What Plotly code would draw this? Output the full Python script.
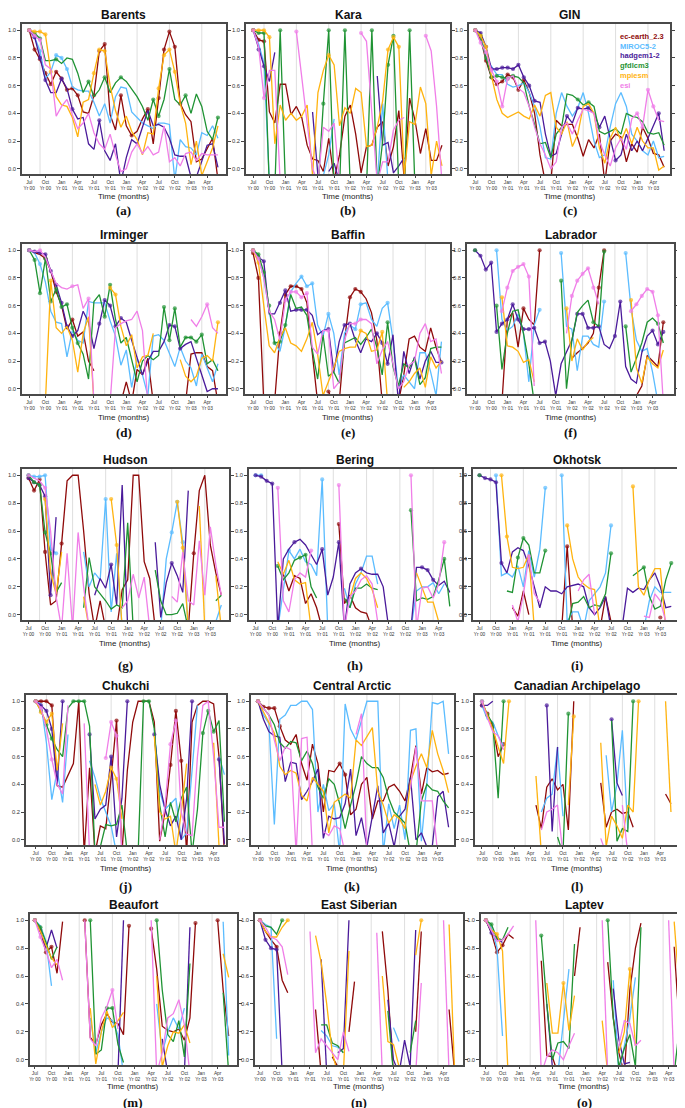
import plotly.graph_objects as go

N = None

# ---------------- axis labels / categories ----------------
TICK_POS = [0, 3, 6, 9, 12, 15, 18, 21, 24, 27, 30, 33]
TICK_TEXT = ["Jul<br>Yr 00", "Oct<br>Yr 00", "Jan<br>Yr 01", "Apr<br>Yr 01",
             "Jul<br>Yr 01", "Oct<br>Yr 01", "Jan<br>Yr 02", "Apr<br>Yr 02",
             "Jul<br>Yr 02", "Oct<br>Yr 02", "Jan<br>Yr 03", "Apr<br>Yr 03"]
GRID_MONTHS = [2, 8, 14, 20, 26, 32]
Y_TICKS = [0.0, 0.2, 0.4, 0.6, 0.8, 1.0]
Y_TICK_TEXT = ["0.0", "0.2", "0.4", "0.6", "0.8", "1.0"]
MODELS = ["ec-earth_2.3", "MIROC5-2", "hadgem1-2", "gfdlcm3", "mpiesm", "esi"]
REGION_NAMES = ["Barents", "Kara", "GIN", "Irminger", "Baffin", "Labrador",
                "Hudson", "Bering", "Okhotsk", "Chukchi", "Central Arctic",
                "Canadian Archipelago", "Beaufort", "East Siberian", "Laptev"]
LETTERS = ["(a)", "(b)", "(c)", "(d)", "(e)", "(f)", "(g)", "(h)", "(i)",
           "(j)", "(k)", "(l)", "(m)", "(n)", "(o)"]

# ---------------- data: each region = [ec-earth, MIROC, hadgem, gfdl, mpiesm, esi] ----------------
BARENTS = [
    [1.0,0.86,0.79,0.69,0.61,0.70,0.65,0.57,0.58,0.53,0.41,0.40,0.53,0.85,0.90,0.39,0.28,0.53,0.31,0.24,0.27,0.36,0.43,0.18,0.51,0.86,0.99,0.88,0.47,0.39,0.34,0.05,0.07,0.14,0.22,-0.08],
    [1.0,0.95,0.85,0.65,0.70,0.82,0.80,0.72,0.59,0.57,0.56,0.56,0.48,0.38,0.47,0.33,0.52,0.59,0.58,0.41,0.37,0.33,0.31,0.29,0.33,0.33,0.32,-0.08,0.21,0.16,0.15,0.10,0.26,0.24,0.31,0.22],
    [1.0,0.95,0.80,0.64,0.55,0.55,0.65,0.58,0.43,0.36,0.37,0.18,0.14,0.35,0.13,0.06,0.18,-0.10,0.08,0.21,0.18,0.30,0.42,0.31,0.32,0.30,0.22,0.10,0.09,0.09,-0.06,-0.06,0.05,0.17,0.18,0.01],
    [1.0,0.98,0.94,0.78,0.78,0.79,0.76,0.80,0.79,0.69,0.55,0.63,0.52,0.57,0.66,0.55,0.62,0.66,0.63,0.57,0.52,0.45,0.35,0.50,0.38,0.50,0.72,0.50,0.46,0.53,0.40,0.54,0.45,0.27,0.21,0.37],
    [1.0,0.99,0.99,0.97,0.70,0.52,0.46,0.45,0.37,0.23,0.48,0.50,0.69,0.86,0.85,0.60,0.42,0.30,0.38,0.27,0.21,0.10,0.26,0.25,0.58,0.82,0.86,0.70,0.47,0.33,0.03,0.20,-0.05,0.05,0.15,0.31],
    [1.0,0.96,0.93,0.75,0.72,0.38,0.45,0.50,0.39,0.29,0.33,0.40,0.26,0.18,0.14,0.25,0.10,-0.02,0.00,0.12,0.18,0.11,0.16,0.10,0.12,0.31,0.05,0.08,0.02,0.11,0.12,0.06,0.11,0.10,0.10,0.10],
]
BARENTS_MK = [[0,1,2,3,4,5,6,7,8,9,12,13,14,17,19,22,24,25,26,27,28], [0,1,2,5,6,7], [0,1,2,3,6,8,13],
              [0,1,2,5,11,14,17,23,24,26,29,35], [0,1,2,3,4,12,13,14,24,25,26,27], [0,1,2]]

KARA = [
    [1.0,0.93,0.92,0.41,0.33,0.61,0.61,0.39,0.45,0.37,0.17,0.07,0.06,-0.02,0.22,-0.08,0.10,0.38,0.46,0.25,-0.03,0.16,0.17,0.30,0.34,0.02,0.16,0.42,-0.08,0.51,0.35,0.11,0.29,0.06,0.06,0.17],
    [1.0,0.90,0.76,-0.1,N,N,N,N,N,N,N,N,-0.1,-0.05,0.10,0.36,N,N,N,N,N,N,N,-0.1,0.47,-0.1],
    [1.0,0.86,0.74,0.63,0.84,N,N,N,N,N,N,0.41,-0.05,N,-0.02,0.04,-0.1,N,N,N,N,N,N,0.67,0.17,0.19,-0.03,0.02,0.08],
    [1.0,0.98,0.98,-0.15,-0.15,1.0,-0.15,N,N,N,N,N,-0.15,0.47,1.0,-0.15,-0.15,1.0,-0.15,N,N,-0.15,1.0,-0.15,0.2,0.75,0.96,-0.15,-0.15,1.0,-0.15],
    [1.0,1.0,1.0,0.95,0.18,0.46,0.35,0.40,0.35,0.38,0.46,-0.05,0.55,0.71,0.82,0.75,0.31,0.44,0.40,0.58,0.55,0.16,0.17,0.30,0.49,0.86,0.95,0.88,-0.05,0.34,0.32,0.59,0.47,-0.05,0.20,0.02],
    [1.0,0.88,0.51,0.71,0.71,-0.1,N,N,0.99,0.66,0.33,0.0,-0.1,0.30,0.27,0.33,-0.1,N,N,N,0.98,0.92,0.40,-0.1,0.05,0.05,0.28,0.35,0.37,N,N,N,0.96,0.85,0.45,-0.1],
]
KARA_MK = [[0,1,2], [0], [0,1,2], [0,1,2,5,13,14,17,22,25,26,29], [0,1,2,3,14,25,26,27], [0,2,8,20,32]]

GIN = [
    [1.0,0.94,0.78,0.66,0.61,0.63,0.68,0.66,0.57,0.64,0.55,0.40,0.10,-0.1,-0.1,0.35,0.31,0.32,0.32,0.22,0.09,0.21,0.15,0.25,-0.1,0.20,0.25,0.23,0.05,0.18,0.12,0.30,0.22,0.11,0.10,0.01],
    [1.0,0.95,0.80,0.74,0.68,0.68,0.61,0.59,0.60,0.62,0.55,0.45,0.30,0.08,0.07,0.40,0.55,0.45,0.38,0.44,0.55,0.40,0.20,0.08,0.10,0.30,0.47,0.55,0.45,0.25,0.20,0.13,0.10,0.20,0.08,0.09],
    [1.0,0.98,0.88,0.72,0.72,0.73,0.73,0.72,0.75,0.66,0.60,0.49,0.48,0.25,0.09,0.11,0.25,0.38,0.33,0.44,0.43,0.44,0.40,0.30,0.38,0.22,0.06,0.10,0.25,0.13,0.20,0.13,0.22,0.30,0.40,0.13],
    [1.0,0.96,0.80,0.66,0.67,0.66,0.65,0.67,0.66,0.62,0.45,0.32,0.18,0.19,0.08,0.25,0.30,0.54,0.53,0.50,0.46,0.48,0.45,0.27,0.25,0.27,0.29,0.25,0.40,0.38,0.37,0.34,0.26,0.25,0.26,0.17],
    [1.0,0.96,0.88,0.67,0.50,0.40,0.37,0.39,0.41,0.38,0.36,0.46,0.38,0.53,0.55,0.30,0.25,0.34,0.16,0.25,0.45,0.47,0.40,0.15,0.04,0.22,0.30,0.20,0.29,0.18,0.30,0.20,0.15,0.15,-0.01,0.02],
    [1.0,0.91,0.84,0.71,0.63,0.45,0.65,0.67,0.58,0.55,0.45,0.30,0.18,0.10,0.00,0.05,0.30,0.33,0.25,0.35,0.43,0.42,0.40,0.20,0.10,0.02,0.15,0.22,0.14,0.36,0.40,0.30,0.57,0.45,0.35,0.34],
]
GIN_MK = [[0,1,2,3,4,5,6,7,8,9], [0], [0,1,2,3,4,5,6,7,8,9,10,11,17,19,21,23,26,34],
          [0,1,2,3,4,5,6,7,19,21], [0,1,2], [0,1,2,3,4,5,6,30,31,32,33]]

IRMINGER = [
    [1.0,0.98,0.97,0.94,0.85,0.70,0.60,0.43,0.50,0.38,0.41,0.20,0.13,N,N,N,N,-0.1,0.05,-0.1,0.14,0.10,0.22,-0.1,N,N,N,N,N,-0.1,0.25,0.26,0.26,0.16,0.13,-0.1],
    [1.0,0.98,0.90,0.77,0.56,0.48,0.47,0.23,0.42,0.35,0.33,0.63,0.62,0.62,0.62,0.49,0.38,0.17,0.28,0.01,0.22,0.10,-0.05,0.38,0.39,0.35,0.25,0.16,0.30,0.20,0.15,0.02,0.25,0.15,0.05,0.18],
    [1.0,0.99,0.98,0.97,0.85,0.75,0.62,0.45,0.38,0.42,0.56,0.48,0.29,0.47,0.64,0.60,0.45,0.51,0.48,0.35,0.22,0.10,0.20,0.27,0.27,0.34,0.46,0.45,0.29,0.32,0.34,0.22,0.10,-0.02,0.00,0.00],
    [1.0,0.93,0.69,0.94,0.63,0.72,0.59,0.61,0.44,0.33,0.25,0.07,0.63,0.68,0.52,0.75,0.50,0.33,0.37,0.22,0.05,0.20,0.24,0.21,0.24,0.59,0.35,0.58,0.30,0.37,0.37,0.34,0.39,0.18,0.21,0.13],
    [N,N,N,-0.1,0.78,0.44,0.40,0.45,0.35,0.12,0.40,0.52,-0.1,N,N,0.73,0.68,0.45,0.31,0.39,0.15,0.23,0.24,0.40,N,N,N,N,0.21,0.09,0.05,0.09,0.22,0.24,0.20,0.48],
    [1.0,0.99,1.0,0.95,0.85,0.76,0.73,0.72,0.74,0.75,0.58,0.65,-0.1,N,N,-0.1,0.44,0.47,0.49,0.50,0.56,0.42,-0.1,N,N,N,N,N,N,N,0.50,0.45,0.52,0.61,0.44,0.40],
]
IRMINGER_MK = [[0,3,5,8], [0,2], [0,1,2,3,4,5,6,7,8,13,14,15,16,17,26,27,28],
               [0,1,2,3,4,5,6,7,8,9,14,15,25,26,27,29,30,31,32], [4,15,16,35], [0,2,8,11,33]]

BAFFIN = [
    [0.98,0.80,-0.1,N,-0.1,0.40,0.68,0.74,0.74,0.72,0.62,0.25,-0.1,N,-0.02,-0.1,-0.1,0.35,0.66,0.72,0.70,0.65,0.55,0.35,-0.1,N,N,-0.1,0.10,0.36,0.38,0.30,0.27,0.44,0.30,0.19],
    [1.0,0.96,0.80,0.55,0.33,0.27,0.45,0.70,0.76,0.81,0.74,0.76,0.46,0.38,0.54,0.40,0.10,0.40,0.46,0.43,0.61,0.62,0.50,0.45,0.58,0.62,0.35,0.00,0.10,0.05,0.00,0.26,0.26,0.12,-0.05,0.34],
    [1.0,0.95,0.92,0.54,0.54,0.62,0.71,0.56,0.57,0.57,0.57,0.53,0.39,0.42,0.43,0.12,0.34,0.46,0.47,0.35,0.26,0.36,0.34,0.40,0.33,0.18,0.39,-0.1,0.27,0.11,0.23,0.07,0.20,0.27,0.19,0.19],
    [1.0,0.97,0.84,0.60,0.33,0.34,0.46,0.68,0.58,0.59,0.53,0.28,0.07,0.39,0.09,0.12,0.04,0.33,0.35,0.37,0.32,0.37,0.43,0.30,0.10,0.48,0.16,0.02,0.18,0.15,0.22,0.03,0.08,0.29,0.30,0.30],
    [1.0,0.91,0.60,0.31,0.26,0.37,0.44,0.33,0.31,0.27,0.36,0.48,0.25,-0.05,0.05,0.15,0.27,0.29,0.30,0.30,0.42,0.40,0.27,0.28,0.41,-0.1,N,N,0.01,0.05,0.11,0.15,0.01,0.23,0.15,0.20],
    [1.0,0.94,0.80,0.56,0.50,0.35,0.64,0.70,0.70,0.66,0.69,0.30,0.25,0.42,0.42,0.00,0.05,0.35,0.47,0.47,0.50,0.50,0.47,0.18,0.28,0.34,0.18,0.00,0.05,0.17,0.20,0.40,0.47,0.34,0.36,0.11],
]
BAFFIN_MK = [[0,1,5,6,7,8,9,14,18,19,20], [0,9,10,11,14,19,20,25], [0,1,2,5,6,8,9,10,14,17,18,23,24,25,35],
             [0,1,2,3,4,5,6,25], [0,1,20,24], [0,1,6,7,8,9,10,14,19,20]]

LABRADOR = [
    [N,N,N,N,N,-0.1,0.50,0.55,0.30,0.58,0.50,0.46,1.0,N,N,N,N,N,0.22,0.26,0.29,0.33,0.40,0.73,1.0,N,N,N,N,-0.1,-0.05,0.02,0.24,0.20,0.16,0.48],
    [N,N,N,N,1.0,0.50,0.42,0.45,0.54,0.40,0.05,0.46,0.57,N,N,N,0.98,0.45,0.43,0.13,0.38,0.38,0.32,0.30,0.63,N,N,N,0.98,0.58,0.35,0.27,0.29,0.12,-0.1],
    [1.0,0.96,0.86,0.91,0.41,0.47,0.50,0.61,0.50,0.43,0.43,0.44,0.33,0.34,0.20,-0.05,0.18,0.26,0.35,0.54,0.54,0.44,0.44,0.45,0.32,0.29,0.38,0.63,0.16,0.07,0.04,0.26,0.38,0.42,0.32,0.41],
    [1.0,N,N,N,0.60,0.14,0.40,0.56,0.57,0.40,0.18,-0.1,N,N,N,N,0.78,0.0,0.35,0.55,0.60,0.64,0.48,0.45,0.99,N,N,N,0.45,0.12,0.22,0.33,0.48,0.51,0.47,0.33],
    [N,N,N,N,N,0.66,0.31,0.30,0.27,0.19,0.21,0.05,N,N,N,N,N,0.58,0.20,0.36,0.28,0.34,0.37,N,N,N,N,N,N,0.64,0.15,0.04,0.23,0.18,0.15,0.28],
    [N,N,N,N,N,0.56,0.73,0.85,0.88,0.90,0.81,0.02,N,N,N,N,N,0.40,0.67,0.78,0.83,0.87,0.73,0.61,N,N,N,N,N,0.56,0.61,0.67,0.72,0.70,0.53,-0.1],
]
LABRADOR_MK = [[9,12,23,24,35], [4,12,16,24,28], [0,1,2,3,4,5,6,7,8,9,10,11,12,13,19,20,21,22,23,26,27,33,34,35],
               [0,4,11,16,22,24,28,34], [5,17,29], [5,6,7,8,9,10,18,19,20,21,22,29,30,31,32,33,34]]

HUDSON = [
    [0.98,0.89,0.97,0.45,0.07,0.10,0.51,0.96,1.0,1.0,0.60,0.15,-0.1,0.10,-0.1,N,-0.1,0.18,0.25,1.0,1.0,0.38,0.26,-0.1,N,N,N,N,N,-0.1,0.44,0.89,1.0,0.50,0.30,0.14],
    [1.0,0.99,0.99,1.0,0.47,0.44,N,N,N,N,0.45,0.20,0.30,0.25,0.83,0.02,0.44,-0.1,N,N,N,N,N,N,-0.1,0.40,0.59,0.81,0.52,-0.1,N,N,N,N,-0.05,0.07],
    [0.98,0.95,0.93,0.85,0.14,0.70,N,N,N,N,N,N,0.14,0.26,0.19,0.36,0.07,0.93,-0.1,N,N,N,N,0.52,-0.02,0.23,0.37,0.28,0.16,0.89],
    [1.0,0.95,0.93,0.59,0.44,0.16,0.23,N,N,N,0.05,0.41,0.20,0.15,0.10,0.04,0.07,0.05,0.66,-0.1,N,N,N,0.32,0.10,0.00,0.00,0.01,0.08,-0.1,N,N,N,N,0.10,0.14],
    [N,N,N,0.83,0.30,0.15,0.45,N,N,N,0.13,-0.1,N,N,N,0.83,0.50,-0.1,N,N,N,N,N,N,N,N,N,0.81,0.48,-0.1,N,0.78,-0.1,N,0.28,-0.1],
    [1.0,0.98,0.96,0.91,0.60,0.13,-0.1,0.44,-0.1,0.59,0.20,-0.1,N,N,N,N,N,0.05,0.10,0.29,0.12,0.27,-0.1,N,N,N,0.13,0.09,0.45,0.10,0.07,0.53,0.14,0.63,0.36,0.14],
]
HUDSON_MK = [[0,1,2,3,6,30], [0,1,2,3,4,5,14,26,27,28], [0,1,2,3,4,15,26], [0,1,2,3,4], [3,15,16,27,28], [0,3]]

BERING = [
    [N,N,N,N,N,0.29,0.17,0.28,0.26,0.08,0.15,0.05,-0.1,N,N,0.65,0.08,0.14,0.05,0.02,0.01,-0.1],
    [1.0,1.0,N,N,-0.1,0.17,0.46,0.40,0.47,0.38,0.36,0.28,0.97,-0.1,N,N,0.19,0.05,0.22,0.30,0.42,0.42,0.22,N,N,N,N,N,-0.1,0.17,0.20,0.20,0.23,0.15,0.22],
    [1.0,0.99,0.96,0.94,-0.1,0.40,0.47,0.52,0.54,0.50,0.43,0.36,0.47,0.14,0.27,0.52,-0.1,0.22,0.30,0.33,0.30,0.29,0.29,0.20,-0.1,N,N,N,-0.1,0.34,0.34,0.32,0.25,0.21,0.24,0.16],
    [N,N,N,N,0.35,0.25,0.30,0.39,0.41,0.43,0.20,0.12,N,N,N,N,0.12,0.05,0.19,0.19,0.22,0.19,0.18,N,N,N,N,N,0.75,0.10,0.12,0.11,0.13,0.25,0.40,0.06],
    [N,N,N,N,0.38,0.29,0.39,0.25,0.22,0.23,-0.1,N,N,N,N,N,N,0.12,0.26,0.30,0.26,0.18,0.05,N,N,N,N,N,N,0.30,0.20,0.09,0.09,-0.05],
    [N,N,N,N,0.91,0.10,0.02,0.25,0.30,0.27,0.46,N,N,N,N,0.93,-0.1,0.13,0.17,0.25,0.28,0.22,-0.05,N,N,N,N,N,1.0,-0.1,0.19,0.20,0.12,0.22,0.52],
]
BERING_MK = [[15], [0,1,6,12], [0,1,2,3,7,12,15,19,30,31,32], [4,8,9,28,34], [], [4,10,15,28,34]]

OKHOTSK = [
    [N,N,N,N,N,N,0.05,-0.01,0.17,0.00,N,N,N,N,N,-0.1,0.49,-0.1,N,N,N,N,-0.1,0.13,-0.05,N,N,N,N,N,N,N,N,-0.02],
    [N,N,N,1.0,0.28,0.30,0.27,0.35,0.20,0.46,0.27,0.47,0.91,N,N,1.0,-0.05,0.02,0.02,-0.1,0.10,0.15,0.20,0.30,0.64,N,N,N,N,N,-0.1,0.10,0.20,0.16,0.16,0.16],
    [1.0,0.98,0.97,0.95,0.37,0.30,0.45,0.48,0.46,0.35,0.20,0.05,0.20,0.17,0.17,0.15,0.20,0.21,0.22,0.20,0.05,0.00,0.05,0.13,-0.1,N,-0.1,0.19,0.16,0.19,0.18,0.25,0.30,0.20,0.05,0.06],
    [1.0,N,N,N,N,0.17,0.16,0.41,0.55,0.50,0.30,0.30,0.46,N,N,N,-0.1,0.08,0.09,0.13,0.05,0.07,0.06,0.15,0.44,N,N,N,0.28,0.31,0.34,0.13,0.04,0.06,0.25,0.37],
    [N,N,N,N,1.0,0.56,0.34,0.33,0.34,0.43,-0.1,N,N,N,N,N,0.64,0.40,0.27,0.22,0.19,0.18,-0.1,N,N,N,N,N,0.92,0.20,0.14,0.25,0.33,0.33,-0.1],
    [N,N,N,N,N,N,0.07,-0.05,0.14,0.42,0.15,0.09,N,N,N,N,N,N,0.17,0.25,0.29,0.00,N,N,N,N,N,N,N,N,-0.01,-0.02,0.15,0.10,-0.05],
]
OKHOTSK_MK = [[16,33], [3,12,15,24], [0,1,2,3,4], [0,7,8,12,24,30,35], [4,5,16,28], [9]]

CHUKCHI = [
    [1.0,1.0,1.0,0.97,0.39,0.38,0.47,0.55,1.0,-0.1,0.52,-0.1,0.10,0.08,0.45,0.86,-0.1,0.50,0.85,1.0,1.0,1.0,0.85,-0.01,0.20,0.54,0.93,0.57,-0.1,0.85,0.97,1.0,1.0,0.98,0.60,-0.1],
    [1.0,0.98,0.70,0.29,0.50,0.27,0.76,N,N,N,0.57,0.45,0.30,0.20,0.10,-0.1,N,N,N,N,N,N,0.80,0.35,0.22,0.26,0.30,0.00,0.05,0.50,0.97,N,N,N,0.60,0.47],
    [1.0,0.97,0.93,0.80,0.40,1.0,N,N,N,N,0.76,0.15,0.22,0.25,0.60,0.02,0.30,1.0,N,N,N,N,0.76,0.40,0.22,0.10,0.17,0.00,0.30,1.0,N,N,N,N,0.58,-0.03],
    [1.0,0.93,0.83,0.73,0.65,0.60,0.95,1.0,1.0,1.0,0.82,-0.1,-0.05,0.11,0.10,0.11,0.25,-0.1,N,-0.1,1.0,1.0,0.80,0.25,0.02,0.27,0.13,0.30,0.38,-0.1,0.22,0.77,0.93,0.78,0.86,0.13],
    [1.0,0.92,0.85,0.91,0.50,0.84,N,N,N,N,N,0.40,0.25,0.35,0.52,0.44,0.15,N,N,N,N,N,0.75,0.20,0.15,0.17,-0.1,0.20,0.55,N,N,N,N,0.70,-0.05],
    [1.0,0.95,0.80,0.58,0.40,0.33,0.97,N,N,0.84,-0.1,N,N,0.59,0.85,0.75,-0.1,N,N,N,N,N,N,0.00,0.25,0.69,0.86,0.20,0.04,0.03,0.60,0.97,1.0,0.60,0.09,0.09],
]
CHUKCHI_MK = [[0,1,2,3,15,25,26,27], [0], [0,1,2,3,5,10,14,17,22,29,34], [0,1,2,3,7,8,9,20,21,31,32,33],
              [0,1,2,3,14,15], [0,1,3,13,14,15,25,26]]

CENTRAL_ARCTIC = [
    [1.0,0.96,0.95,0.95,0.82,0.72,0.69,0.76,0.55,0.43,0.69,0.55,0.20,0.50,0.49,0.55,0.47,0.18,0.22,0.40,0.45,0.15,0.28,0.28,0.38,0.40,0.35,0.28,0.45,0.68,0.33,0.52,0.49,0.50,0.47,0.48],
    [1.0,0.90,0.84,0.11,0.87,0.90,0.97,0.97,1.0,1.0,0.94,0.20,0.40,0.21,0.26,-0.1,0.98,0.80,0.72,0.87,1.0,1.0,1.0,-0.1,0.26,0.08,0.25,0.00,0.79,0.80,-0.01,0.40,0.99,0.98,1.0,0.62],
    [1.0,0.87,0.78,0.75,0.74,0.42,0.56,0.55,0.29,0.35,0.42,0.51,0.01,0.17,0.15,0.16,0.26,0.51,0.03,0.16,-0.05,0.17,0.39,0.05,0.12,-0.05,0.17,0.22,0.45,0.00,0.05,-0.05,-0.05,0.31,0.35,0.09],
    [1.0,0.95,0.90,0.83,0.70,0.66,0.71,0.70,0.57,0.64,0.55,0.38,0.30,0.44,0.40,0.26,0.08,0.25,0.40,0.60,0.55,0.52,0.52,0.45,0.30,0.20,0.16,0.12,-0.1,-0.1,0.28,0.40,0.36,0.35,0.28,0.23],
    [1.0,0.92,0.85,0.77,0.53,0.47,0.50,0.48,0.32,0.28,0.45,0.40,0.35,0.05,0.27,0.30,0.33,0.30,0.72,0.68,0.74,0.81,0.35,0.25,0.12,0.18,0.15,0.08,0.42,0.53,0.62,0.52,0.79,0.62,0.50,0.34],
    [1.0,0.95,0.90,0.72,0.57,0.67,0.65,-0.1,0.73,0.74,-0.1,N,0.06,0.03,0.10,0.08,-0.1,N,0.76,0.91,-0.1,N,N,N,N,N,N,N,0.37,0.67,0.28,0.28,0.28,-0.1],
]
CENTRAL_ARCTIC_MK = [[0,1,2,3,4,15,16], [0], [0], [0], [0], [0]]

CANADIAN_ARCH = [
    [0.97,0.91,0.82,0.60,0.69,N,N,N,N,N,0.25,0.08,0.38,0.44,0.36,0.40,0.07,1.0,N,N,N,N,0.41,0.09,0.20,0.22,0.19,0.20,0.09,N,N,N,N,N,0.33,0.26],
    [0.97,0.87,0.85,0.75,0.68,N,N,N,N,N,N,0.20,0.30,0.33,0.67,0.17,N,N,N,N,N,N,N,0.61,0.20,0.40,0.79,0.08],
    [0.97,0.97,1.0,N,N,N,N,N,N,N,N,N,0.97,0.06,0.67,N,N,N,N,N,N,N,N,N,0.87,0.41,0.32],
    [1.0,0.90,0.84,0.30,1.0,N,N,N,N,N,N,N,N,N,0.02,-0.1,0.91,N,N,N,N,N,N,N,0.86,-0.01,0.08,0.06,1.0],
    [1.0,0.90,0.80,0.67,0.55,1.0,N,N,N,N,0.46,-0.1,N,N,N,N,0.25,0.89,N,N,N,N,0.70,-0.05,0.17,0.10,0.01,0.25,0.20,1.0,N,N,N,N,1.0,0.20],
    [1.0,0.88,0.78,0.75,0.65,N,N,N,N,N,N,0.07,0.20,0.22,0.25,-0.1,N,N,N,N,N,N,0.01,-0.1,N,N,0.25,-0.1,N,N,N,N,N,N,N,-0.01],
]
CANADIAN_ARCH_MK = [[0,1,2,4], [], [0,12,24], [0,1,4,16,28], [5,17,29], [0]]

BEAUFORT = [
    [1.0,0.93,0.77,0.81,0.62,0.99,N,N,N,1.0,0.16,0.11,0.25,0.33,0.27,0.26,0.18,0.96,N,N,N,0.94,0.65,0.24,0.21,0.20,0.22,0.14,0.30,0.98,N,N,N,1.0,0.50,0.17],
    [1.0,0.96,0.85,0.53,N,N,N,N,N,N,0.30,0.05,0.20,0.30,0.28,0.18,-0.1,N,N,N,N,N,0.40,0.05,0.20,0.30,0.22,0.37,N,N,N,N,N,N,0.99,0.03],
    [1.0,0.92,0.80,0.93,0.80,N,N,N,N,N,N,N,-0.05,N,N,-0.1,1.0,N,N,N,N,N,N,0.15,-0.1,N,N,-0.1,0.95],
    [1.0,0.95,0.84,0.72,0.81,N,N,N,N,N,1.0,0.04,0.07,0.37,0.37,0.11,-0.02,N,N,N,N,N,1.0,0.50,0.18,0.13,0.28,0.02,0.69,N,N,N,N,N,0.48,-0.1],
    [1.0,0.92,0.82,0.73,0.68,N,N,N,N,N,0.37,-0.03,0.20,0.35,0.23,0.28,0.34,N,N,N,N,N,0.60,-0.05,0.10,0.20,0.19,0.25,0.12,N,N,N,N,N,0.76,0.59],
    [1.0,0.88,0.78,0.66,0.72,0.57,N,N,N,1.0,0.15,0.10,0.30,0.38,0.50,0.22,N,N,N,N,N,1.0,-0.1,0.05,0.30,0.33,0.43,0.25,-0.1,N,N,N,N,N,-0.01],
]
BEAUFORT_MK = [[0,1,2,3,9,17,21,29,33], [0], [0], [0,1,10,13,14,22], [0], [0,1,14]]

EAST_SIBERIAN = [
    [1.0,0.92,0.86,0.81,0.57,0.48,N,N,N,N,0.36,-0.1,N,0.02,-0.05,N,0.20,0.56,N,N,N,N,0.92,0.50,-0.1,N,N,N,0.20,0.92,N,N,N,N,0.36,-0.1],
    [1.0,0.97,0.95,0.15,N,N,N,N,N,N,N,0.21,0.17,0.10,0.09,0.05,N,N,N,N,N,N,N,N,0.23,0.13],
    [1.0,0.86,0.80,0.79,-0.1,N,N,N,N,N,N,0.72,-0.1,N,0.05,0.08,1.0,N,N,N,N,N,N,0.43,0.00,-0.1,0.14,-0.05,0.93],
    [1.0,0.96,0.95,0.90,1.0,N,N,N,N,N,N,0.25,0.25,0.12,0.10,0.05,N,N,N,N,N,N,N,0.35,-0.1,N,N,0.05,0.28],
    [1.0,0.92,0.88,0.88,0.95,1.0,N,N,N,N,0.89,0.70,0.40,0.05,-0.1,-0.1,0.78,N,N,N,N,N,0.60,0.13,0.11,-0.05,N,N,0.75,1.0,N,N,N,N,0.97,-0.1],
    [1.0,0.95,0.88,0.86,0.81,0.61,N,N,N,0.92,0.05,0.15,0.10,0.05,0.00,0.20,0.06,N,N,N,N,0.91,-0.1,N,N,N,N,N,-0.1,0.55,N,N,N,1.0,-0.1],
]
EAST_SIBERIAN_MK = [[0,3], [], [0,1,2,3], [0,4], [0,5,29], [0]]

LAPTEV = [
    [1.0,0.91,0.77,0.82,0.90,0.87,N,N,N,N,0.71,0.03,0.02,-0.1,N,N,0.60,0.95,N,N,N,N,0.70,0.30,0.05,-0.1,0.50,0.80,0.98,N,N,N,N,N,0.81,0.20],
    [1.0,0.95,0.80,0.17,N,N,N,N,N,N,N,N,N,-0.1,0.30,0.65,N,N,N,N,N,N,N,0.57,-0.1,0.10,0.30,0.59],
    [1.0,0.91,0.87,0.84,N,N,N,N,N,N,N,0.40,-0.05,N,N,N,N,N,N,N,N,N,N,0.51,0.15,-0.03,-0.02],
    [1.0,0.97,0.87,0.86,0.95,N,N,N,N,N,0.89,0.40,0.00,0.12,0.13,0.08,0.83,N,N,N,N,N,1.0,0.30,-0.05,0.08,0.18,-0.05,0.95,N,N,N,N,N,-0.1,0.25],
    [1.0,0.93,0.90,0.78,-0.1,N,N,N,N,N,N,0.55,0.19,0.19,0.55,0.21,0.46,N,N,N,N,0.28,-0.1,N,0.05,0.20,0.65,0.10,N,N,N,N,N,N,0.99,0.47],
    [1.0,0.92,0.85,0.86,0.90,0.96,N,N,N,1.0,-0.1,0.02,0.07,0.05,0.00,0.10,0.19,N,N,N,N,1.0,-0.1,N,0.10,0.28,0.26,0.10,0.14,N,N,N,N,1.0,-0.1],
]
LAPTEV_MK = [[0,2,3], [0], [0,1,2], [0,1,10,22], [0,2,4,14,26], [0]]

PANEL_DATA = [BARENTS, KARA, GIN, IRMINGER, BAFFIN, LABRADOR, HUDSON, BERING, OKHOTSK,
              CHUKCHI, CENTRAL_ARCTIC, CANADIAN_ARCH, BEAUFORT, EAST_SIBERIAN, LAPTEV]
PANEL_MARKS = [BARENTS_MK, KARA_MK, GIN_MK, IRMINGER_MK, BAFFIN_MK, LABRADOR_MK, HUDSON_MK,
               BERING_MK, OKHOTSK_MK, CHUKCHI_MK, CENTRAL_ARCTIC_MK, CANADIAN_ARCH_MK,
               BEAUFORT_MK, EAST_SIBERIAN_MK, LAPTEV_MK]

# ---------------- styling / layout ----------------
COLORS = ["#8f0a0a", "#5bbcff", "#4a1a9a", "#1f9333", "#ffb30f", "#f07ee8"]
W, H = 685, 1108
ROW_TOP = [16, 236, 461, 687, 906]
ROW_BOT = [166, 386, 612, 837, 1057]
TIME_OFF = [23, 23, 23, 23, 21]
LETTER_OFF = [37, 38, 45, 41, 37]
COL_PX = [
    [(13, 218), (238, 443), (462, 664)],
    [(13, 218), (237, 443), (460, 668)],
    [(13, 221), (241, 455), (466, 674)],
    [(17, 218), (243, 447), (468, 673)],
    [(21, 229), (247, 456), (474, 682)],
]
X_RANGES = [
    [(-1.35, 36.5), (-1.35, 36.5), (-1.16, 36.1)],
    [(-1.35, 36.5), (-1.5, 36.6), (-1.5, 37.0)],
    [(-1.2, 36.4), (-1.2, 37.2), (-1.2, 36.6)],
    [(-1.8, 35.3), (-1.3, 36.0), (-1.3, 36.5)],
    [(-0.9, 36.5), (-0.9, 36.5), (-0.9, 36.5)],
]
Y_RANGE = [-0.038, 1.045]

fig = go.Figure()
annotations = []
shapes = []
layout_axes = {}

for k in range(15):
    r, c = divmod(k, 3)
    suf = "" if k == 0 else str(k + 1)
    x0, x1 = COL_PX[r][c]
    top, bot = ROW_TOP[r], ROW_BOT[r]
    series = PANEL_DATA[k]
    marks = PANEL_MARKS[k]
    for j, vals in enumerate(series):
        months = list(range(len(vals)))
        sizes = [4.2 if i in marks[j] else 0 for i in months]
        fig.add_trace(go.Scatter(
            x=months, y=vals, mode="lines+markers", name=MODELS[j],
            line=dict(color=COLORS[j], width=1.3),
            marker=dict(size=sizes, color=COLORS[j], line=dict(width=0)),
            xaxis="x" + suf, yaxis="y" + suf, showlegend=False,
            connectgaps=False, hoverinfo="skip"))
    layout_axes["xaxis" + suf] = dict(
        domain=[x0 / W, x1 / W], range=list(X_RANGES[r][c]), anchor="y" + suf,
        tickmode="array", tickvals=TICK_POS, ticktext=TICK_TEXT,
        ticks="outside", ticklen=2, tickwidth=1, tickcolor="#444",
        tickfont=dict(size=4.8, color="#333", family="Liberation Sans"),
        showgrid=False, zeroline=False, showline=True, linecolor="#4a4a4a",
        linewidth=1.5, mirror=True, fixedrange=True)
    layout_axes["yaxis" + suf] = dict(
        domain=[1 - bot / H, 1 - top / H], range=Y_RANGE, anchor="x" + suf,
        tickmode="array", tickvals=Y_TICKS, ticktext=Y_TICK_TEXT,
        ticks="outside", ticklen=3, tickwidth=1, tickcolor="#444",
        tickfont=dict(size=5.8, color="#333", family="Liberation Sans"),
        showgrid=False, zeroline=False, showline=True, linecolor="#4a4a4a",
        linewidth=1.5, mirror="ticks", fixedrange=True)
    for g in GRID_MONTHS:
        shapes.append(dict(type="line", xref="x" + suf, yref="y" + suf + " domain",
                           x0=g, x1=g, y0=0, y1=1, layer="below",
                           line=dict(color="#dedede", width=1)))
    cx = (x0 + x1) / 2 / W
    annotations.append(dict(text="<b>" + REGION_NAMES[k] + "</b>", x=cx, y=1 - (top - 9) / H,
                            xref="paper", yref="paper", showarrow=False,
                            xanchor="center", yanchor="middle",
                            font=dict(family="Liberation Sans", size=12, color="#111")))
    annotations.append(dict(text="Time (months)", x=cx, y=1 - (bot + TIME_OFF[r]) / H,
                            xref="paper", yref="paper", showarrow=False,
                            xanchor="center", yanchor="middle",
                            font=dict(family="Liberation Sans", size=8, color="#222")))
    annotations.append(dict(text="<b>" + LETTERS[k] + "</b>", x=cx, y=1 - (bot + LETTER_OFF[r]) / H,
                            xref="paper", yref="paper", showarrow=False,
                            xanchor="center", yanchor="middle",
                            font=dict(family="Liberation Serif", size=13, color="#111")))

# legend (coloured text inside panel c)
for j, m in enumerate(MODELS):
    annotations.append(dict(text="<b>" + m + "</b>", x=612 / W, y=1 - (28.3 + 9.8 * j) / H,
                            xref="paper", yref="paper", showarrow=False,
                            xanchor="left", yanchor="middle",
                            font=dict(family="Liberation Sans", size=7.5, color=COLORS[j])))

fig.update_layout(
    width=W, height=H, margin=dict(l=0, r=0, t=0, b=0),
    paper_bgcolor="white", plot_bgcolor="white",
    annotations=annotations, shapes=shapes, showlegend=False,
    **layout_axes)

fig.write_html("out.html")
